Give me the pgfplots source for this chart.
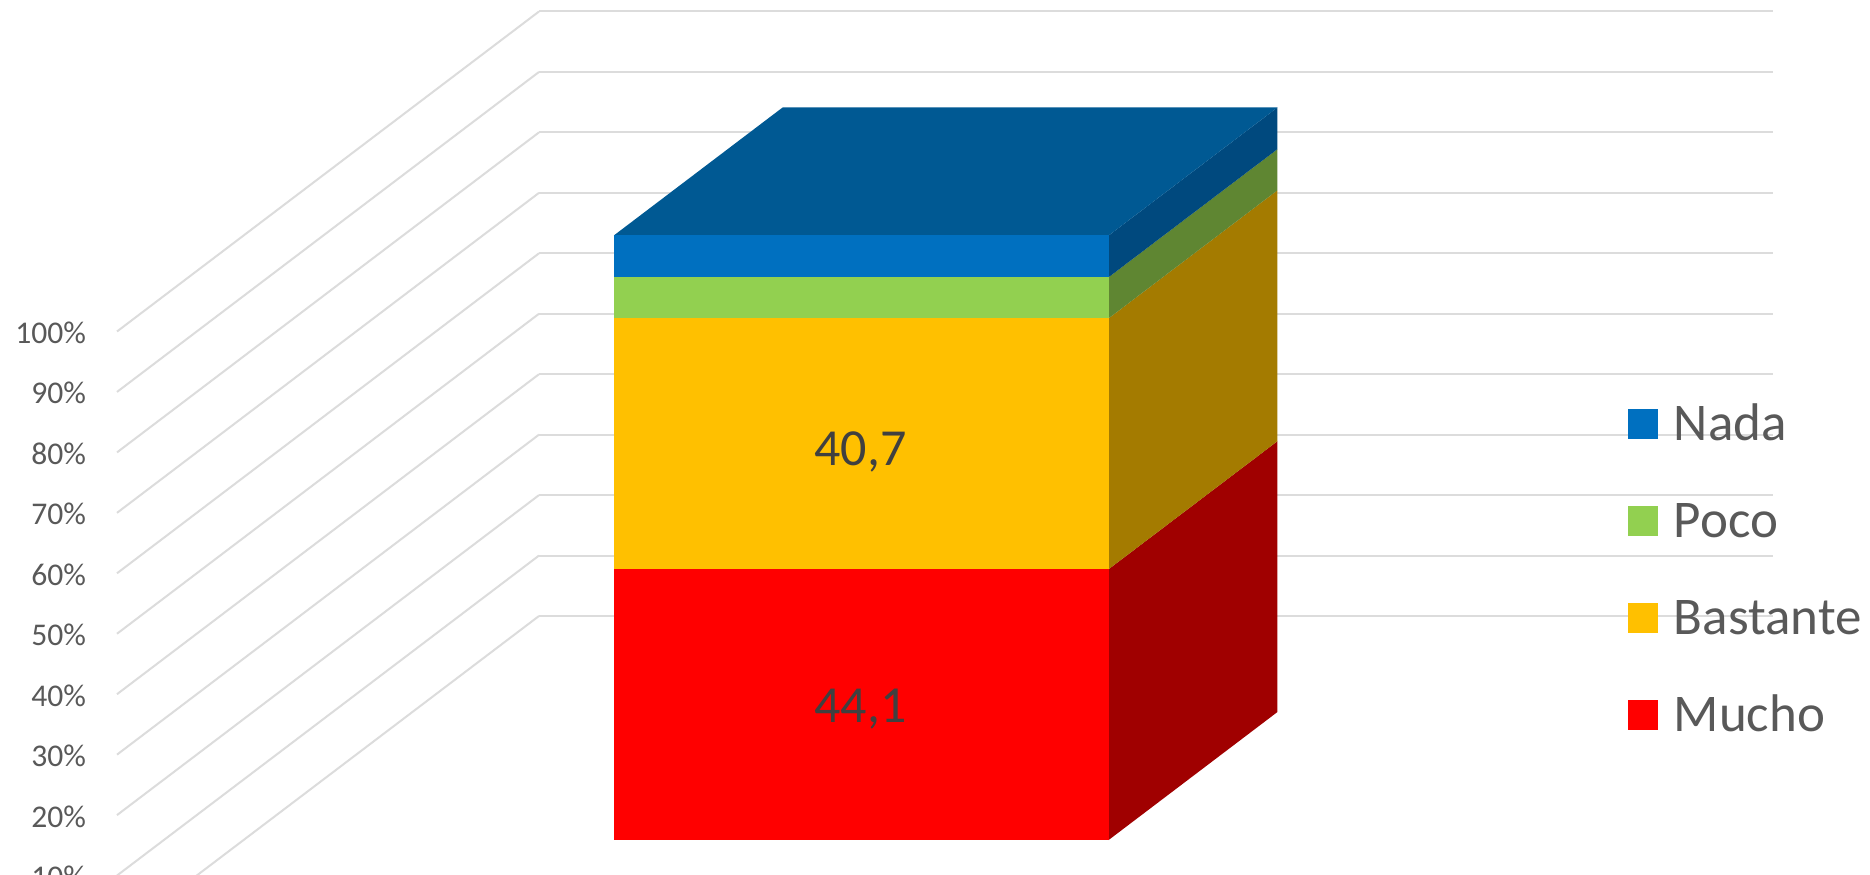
\documentclass[border=0pt]{standalone}
\usepackage{fontspec}
\setmainfont{Carlito}
\usepackage{pgfplots}
\pgfplotsset{compat=1.18}

\definecolor{gridc}{HTML}{DCDCDC}
\definecolor{txt}{HTML}{595959}
\definecolor{lab}{HTML}{404040}
\definecolor{mucho}{HTML}{FF0000}
\definecolor{muchos}{HTML}{A00000}
\definecolor{bast}{HTML}{FFC000}
\definecolor{basts}{HTML}{A47B00}
\definecolor{poco}{HTML}{92D050}
\definecolor{pocos}{HTML}{5F8632}
\definecolor{nada}{HTML}{0070C0}
\definecolor{nadas}{HTML}{00497E}
\definecolor{nadat}{HTML}{005993}

\begin{document}
\begin{tikzpicture}
  % page is 1870x874 px at 0.5pt per px; the reference cuts off the lower labels
  \path[use as bounding box, clip] (0,0) rectangle (935pt,437pt);
  \begin{axis}[
    anchor=origin, at={(58.5pt,-31pt)},
    x={(617pt,0pt)}, y={(211pt,160pt)}, z={(0pt,3.0225pt)},
    xmin=0, xmax=1, ymin=0, ymax=1, zmin=0, zmax=100,
    clip=false,
    xtick=\empty, ytick=\empty,
    ztick={0,10,...,100},
    ztick pos=left,
    zticklabel={\pgfmathprintnumber{\tick}\%},
    /pgf/number format/assume math mode=true,
    z tick label style={font=\fontsize{15.8}{18}\selectfont, text=txt, anchor=east, xshift=-12pt, yshift=-0.7pt},
    major tick length=0pt,
    axis line style={draw=none},
    tick style={draw=none},
    grid=major,
    major grid style={gridc, line width=1pt},
    legend image code/.code={\path[draw=none,fill,#1] (0pt,-4.5pt) rectangle (15pt,10.5pt); \path (22.7pt,0pt);},
    legend style={draw=none, fill=none, inner sep=0pt, outer sep=0pt,
      at={(rel axis cs:1.2245,0,0.597)}, anchor=west,
      font=\fontsize{26.5}{30}\selectfont, text=txt, row sep=25.5pt,
      nodes={inner ysep=0pt, inner xsep=0pt, text height=17pt, text depth=6pt},
      legend cell align=left},
  ]
    % sides
    \addplot3[forget plot, draw=none, fill=muchos] coordinates {(0.701,0.3,0) (0.701,0.7,0) (0.701,0.7,44.8) (0.701,0.3,44.8)} --cycle;
    \addplot3[forget plot, draw=none, fill=basts] coordinates {(0.701,0.3,44.8) (0.701,0.7,44.8) (0.701,0.7,86.3) (0.701,0.3,86.3)} --cycle;
    \addplot3[forget plot, draw=none, fill=pocos] coordinates {(0.701,0.3,86.3) (0.701,0.7,86.3) (0.701,0.7,93.1) (0.701,0.3,93.1)} --cycle;
    \addplot3[forget plot, draw=none, fill=nadas] coordinates {(0.701,0.3,93.1) (0.701,0.7,93.1) (0.701,0.7,100) (0.701,0.3,100)} --cycle;
    % top
    \addplot3[forget plot, draw=none, fill=nadat] coordinates {(0.3,0.3,100) (0.701,0.3,100) (0.701,0.7,100) (0.3,0.7,100)} --cycle;
    % fronts
    \addplot3[forget plot, draw=none, fill=mucho] coordinates {(0.3,0.3,0) (0.701,0.3,0) (0.701,0.3,44.8) (0.3,0.3,44.8)} --cycle;
    \addplot3[forget plot, draw=none, fill=bast] coordinates {(0.3,0.3,44.8) (0.701,0.3,44.8) (0.701,0.3,86.3) (0.3,0.3,86.3)} --cycle;
    \addplot3[forget plot, draw=none, fill=poco] coordinates {(0.3,0.3,86.3) (0.701,0.3,86.3) (0.701,0.3,93.1) (0.3,0.3,93.1)} --cycle;
    \addplot3[forget plot, draw=none, fill=nada] coordinates {(0.3,0.3,93.1) (0.701,0.3,93.1) (0.701,0.3,100) (0.3,0.3,100)} --cycle;
    % data labels
    \addplot3[forget plot, draw=none, mark=none, nodes near coords, point meta=explicit symbolic,
      every node near coord/.append style={anchor=center, text=lab, font=\fontsize{26}{30}\selectfont, yshift=-2.5pt}]
      coordinates {(0.5,0.3,22.4) [44,1] (0.5,0.3,65.0) [40,7]};
    \addlegendimage{fill=nada}\addlegendentry{Nada}
    \addlegendimage{fill=poco}\addlegendentry{Poco}
    \addlegendimage{fill=bast}\addlegendentry{Bastante}
    \addlegendimage{fill=mucho}\addlegendentry{Mucho}
  \end{axis}
\end{tikzpicture}
\end{document}
